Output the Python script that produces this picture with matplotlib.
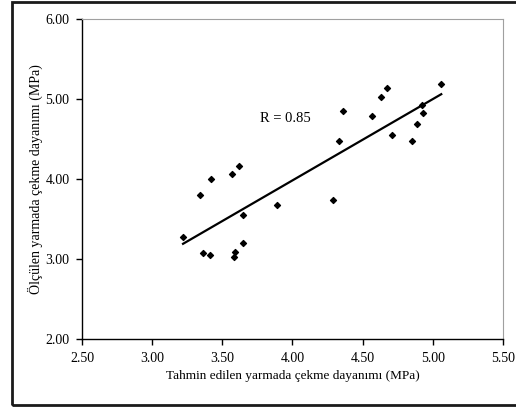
import numpy as np
import matplotlib
matplotlib.use('Agg')
from matplotlib import pyplot as plt
from matplotlib.patches import Rectangle

#--- data

predicted = [3.22, 3.34, 3.36, 3.41, 3.42, 3.57, 3.62, 3.59, 3.58, 3.65, 3.65,
             3.89, 4.29, 4.33, 4.36, 4.57, 4.63, 4.67, 4.71, 4.85, 4.89, 4.92,
             4.93, 5.06]
measured = [3.28, 3.80, 3.08, 3.05, 4.00, 4.06, 4.16, 3.09, 3.03, 3.55, 3.20,
            3.68, 3.74, 4.47, 4.85, 4.79, 5.03, 5.14, 4.55, 4.48, 4.69, 4.92,
            4.83, 5.19]
# trend line as drawn in the reference
trend_x = [3.22, 5.06]
trend_y = [3.19, 5.06]
xticks = [2.5, 3.0, 3.5, 4.0, 4.5, 5.0, 5.5]
yticks = [2.0, 3.0, 4.0, 5.0, 6.0]
r_text = 'R = 0.85'

#--- plot

plt.rcParams['font.family'] = ['Liberation Serif', 'DejaVu Serif']
plt.rcParams['font.size'] = 9.5

fig = plt.figure(figsize=(5.16, 4.07), dpi=100)
ax = fig.add_axes([82/516, 1 - 339/407, (503-82)/516, (339-19)/407])

ax.scatter(predicted, measured, marker='D', s=9, c='black', zorder=3)
ax.plot(trend_x, trend_y, color='black', lw=1.6)

ax.text(3.95, 4.76, r_text, ha='center', va='center', fontsize=10.5)

ax.set_xlim(2.5, 5.5)
ax.set_ylim(2.0, 6.0)
ax.set_xticks(xticks)
ax.set_yticks(yticks)
ax.set_xticklabels(['%.2f' % v for v in xticks])
ax.set_yticklabels(['%.2f' % v for v in yticks])
ax.tick_params(direction='out', length=4, width=1, pad=5, labelsize=10)
ax.spines['top'].set_color('#a0a0a0')
ax.spines['right'].set_color('#a0a0a0')
ax.spines['left'].set_linewidth(1)
ax.spines['bottom'].set_linewidth(1)
ax.set_xlabel('Tahmin edilen yarmada çekme dayanımı (MPa)', labelpad=4)
ax.set_ylabel('Ölçülen yarmada çekme dayanımı (MPa)', labelpad=2, fontsize=10)

# outer frame
fig.patches.append(Rectangle((12/516, 2/407), 1.0, 403/407, transform=fig.transFigure,
                             fill=False, edgecolor='#1a1a1a', lw=2, clip_on=False))

plt.savefig('out.png', dpi=100)
plt.close()
